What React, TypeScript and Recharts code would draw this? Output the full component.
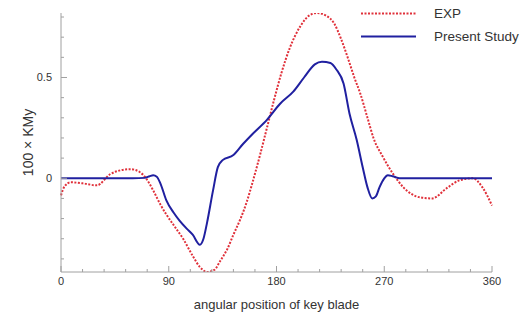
import React from 'react';
import { LineChart, Line, XAxis, YAxis, Legend, Label } from 'recharts';

// angular position (deg) and 100 x KMy
const expAngle = [0, 3, 8, 18, 30, 41, 50, 58, 66, 71, 77, 83, 88, 95, 102, 110, 116, 122, 128, 133, 139, 144, 150, 155, 160, 166, 172, 178, 184, 191, 200, 208, 214, 222, 228, 234, 240, 245, 250, 256, 261, 269, 277, 286, 300, 310, 322, 333, 344, 352, 360];
const expValue = [-0.085, -0.04, -0.02, -0.025, -0.035, 0.02, 0.04, 0.045, 0.03, 0.0, -0.06, -0.13, -0.18, -0.24, -0.3, -0.385, -0.44, -0.465, -0.455, -0.41, -0.35, -0.28, -0.2, -0.12, -0.02, 0.11, 0.25, 0.39, 0.52, 0.645, 0.755, 0.81, 0.82, 0.805, 0.77, 0.69, 0.59, 0.5, 0.42, 0.3, 0.2, 0.105, 0.025, -0.045, -0.095, -0.1, -0.05, -0.01, 0.0, -0.045, -0.135];

const studyAngle = [0, 20, 40, 60, 70, 74, 77, 80, 83, 88, 94, 99, 105, 110, 116, 119, 122, 127, 131, 135, 144, 152, 160, 172, 183, 194, 203, 212, 218, 225, 230, 236, 241, 247, 252, 256, 260, 263, 266, 270, 273, 277, 283, 290, 320, 360];
const studyValue = [0, 0, 0, 0, 0.002, 0.01, 0.015, 0.008, -0.025, -0.11, -0.17, -0.21, -0.25, -0.28, -0.33, -0.3, -0.22, -0.06, 0.055, 0.09, 0.115, 0.17, 0.22, 0.29, 0.37, 0.43, 0.5, 0.565, 0.578, 0.572, 0.54, 0.47, 0.32, 0.19, 0.055, -0.045, -0.1, -0.09, -0.045, 0.0, 0.015, 0.01, 0.0, 0, 0, 0];

const xTicks = [0, 18, 36, 54, 72, 90, 108, 126, 144, 162, 180, 198, 216, 234, 252, 270, 288, 306, 324, 342, 360];
const xMajor = [0, 90, 180, 270, 360];
const yTicks = [-0.4, -0.3, -0.2, -0.1, 0, 0.1, 0.2, 0.3, 0.4, 0.5, 0.6, 0.7, 0.8];
const yMajor = [0, 0.5];

const FONT = 'Arial, "Liberation Sans", sans-serif';
const AXIS = '#a0a0a0';
const TEXT = '#333';
const RED = '#e0303a';
const BLUE = '#2020a0';

const expData = expAngle.map((a, i) => ({ angle: a, value: expValue[i] }));
const studyData = studyAngle.map((a, i) => ({ angle: a, value: studyValue[i] }));

const YTick = (props: any) => {
    const { x, y, payload } = props;
    const major = yMajor.includes(payload.value);
    return (
        <g>
            <line x1={x} y1={y} x2={x + (major ? 6 : 3)} y2={y} stroke={AXIS} />
            {major && (
                <text x={x - 9} y={y + 4} textAnchor="end" fontSize={11} fontFamily={FONT} fill={TEXT}>
                    {payload.value}
                </text>
            )}
        </g>
    );
};

const XTick = (props: any) => {
    const { x, y, payload } = props;
    const major = xMajor.includes(payload.value);
    return (
        <g>
            <line x1={x} y1={y} x2={x} y2={y - (major ? 6 : 3)} stroke={AXIS} />
            {major && (
                <text x={x} y={y + 13} textAnchor="middle" fontSize={11} fontFamily={FONT} fill={TEXT}>
                    {payload.value}
                </text>
            )}
        </g>
    );
};

const renderLegend = (props: any) => (
    <div style={{ fontFamily: FONT, fontSize: 13.5, color: TEXT, whiteSpace: 'nowrap' }}>
        {(props.payload || []).map((entry: any) => (
            <div key={entry.value} style={{ display: 'flex', alignItems: 'center', height: 23 }}>
                <svg width={73} height={23} style={{ flexShrink: 0 }}>
                    <line
                        x1={0}
                        y1={11.5}
                        x2={55}
                        y2={11.5}
                        stroke={entry.color}
                        strokeWidth={2}
                        strokeDasharray={entry.value === 'EXP' ? '2 1.5' : undefined}
                    />
                </svg>
                <span>{entry.value}</span>
            </div>
        ))}
    </div>
);

export default function App() {
    return (
        <div>
            <style>{'body{margin:0}'}</style>
            <LineChart width={521} height={320} margin={{ top: 13, right: 29, bottom: 0, left: 0 }}>
                <XAxis
                    dataKey="angle"
                    type="number"
                    domain={[0, 360]}
                    ticks={xTicks}
                    height={48}
                    stroke={AXIS}
                    tickLine={false}
                    tickSize={0}
                    tickMargin={0}
                    tick={<XTick />}
                    interval={0}
                    allowDuplicatedCategory={false}
                >
                    <Label
                        content={(p: any) => {
                            const vb = p.viewBox;
                            return (
                                <text x={vb.x + vb.width / 2} y={vb.y + 37} textAnchor="middle" fontSize={13} fontFamily={FONT} fill={TEXT}>
                                    angular position of key blade
                                </text>
                            );
                        }}
                    />
                </XAxis>
                <YAxis
                    type="number"
                    domain={[-0.465, 0.82]}
                    allowDataOverflow
                    ticks={yTicks}
                    width={61}
                    stroke={AXIS}
                    tickLine={false}
                    tickSize={0}
                    tickMargin={0}
                    tick={<YTick />}
                    interval={0}
                >
                    <Label
                        content={(p: any) => {
                            const vb = p.viewBox;
                            const cy = vb.y + vb.height / 2;
                            return (
                                <text x={33} y={cy} textAnchor="middle" fontSize={14} fontFamily={FONT} fill={TEXT} transform={`rotate(-90, 33, ${cy})`}>
                                    100 × KMy
                                </text>
                            );
                        }}
                    />
                </YAxis>
                <Legend
                    layout="vertical"
                    align="center"
                    verticalAlign="middle"
                    content={renderLegend}
                    wrapperStyle={{ left: 361, top: 2, width: 160, height: 46 }}
                />
                <Line
                    data={expData}
                    dataKey="value"
                    name="EXP"
                    type="monotone"
                    stroke={RED}
                    strokeWidth={2}
                    strokeDasharray="2 1.5"
                    dot={false}
                    isAnimationActive={false}
                />
                <Line
                    data={studyData}
                    dataKey="value"
                    name="Present Study"
                    type="monotone"
                    stroke={BLUE}
                    strokeWidth={2}
                    dot={false}
                    isAnimationActive={false}
                />
            </LineChart>
        </div>
    );
}
